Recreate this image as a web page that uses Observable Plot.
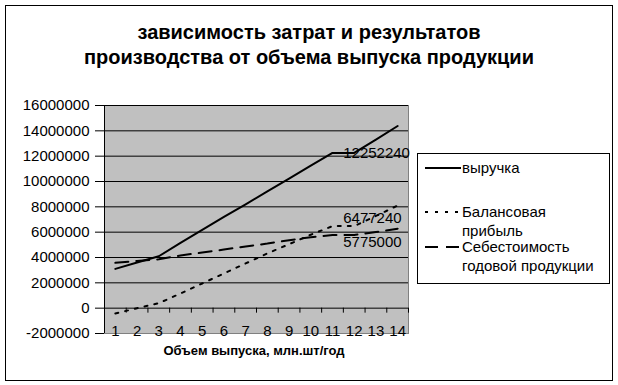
<!DOCTYPE html>
<html>
<head>
<meta charset="utf-8">
<script src="https://cdn.jsdelivr.net/npm/d3@7"></script>
<script src="https://cdn.jsdelivr.net/npm/@observablehq/plot@0.6"></script>
<style>
  html, body { margin: 0; padding: 0; background: #fff; }
  #wrap { position: relative; width: 618px; height: 385px; font-family: "Liberation Sans", Arial, sans-serif; color: #000; overflow: hidden; }
  #border { position: absolute; left: 5px; top: 5px; width: 606px; height: 374px; border: 1px solid #000; }
  #title { position: absolute; left: 0; width: 618px; top: 20px; text-align: center; font-weight: bold; font-size: 20px; line-height: 25px; }
  #xtitle { position: absolute; left: 104px; width: 300px; top: 343px; text-align: center; font-weight: bold; font-size: 13px; }
  #plot { position: absolute; left: 0; top: 0; }
  #legend { position: absolute; left: 417px; top: 153px; width: 191px; height: 129px; border: 1px solid #000; background: #fff; font-size: 15px; }
  .lg { position: absolute; left: 0; }
  .lg svg { position: absolute; left: 7px; }
  .lg span { position: absolute; left: 44px; white-space: nowrap; line-height: 19px; }
</style>
</head>
<body>
<div id="wrap">
  <div id="border"></div>
  <div id="plot"></div>
  <div id="title">зависимость затрат и результатов<br>производства от объема выпуска продукции</div>
  <div id="xtitle">Объем выпуска, млн.шт/год</div>
  <div id="legend"></div>
</div>
<script>
// Categories: output volume
const volumes = [1, 2, 3, 4, 5, 6, 7, 8, 9, 10, 11, 12, 13, 14];
// Series values
const revenue = [3100000, 3600000, 4100000, 5150000, 6180000, 7200000, 8200000, 9220000, 10230000, 11250000, 12252240, 12252240, 13300000, 14380000];
const profit  = [-420000, 0, 390000, 1160000, 1950000, 2740000, 3530000, 4320000, 5050000, 5800000, 6477240, 6477240, 7280000, 8100000];
const cost    = [3580000, 3730000, 3860000, 4160000, 4390000, 4630000, 4870000, 5100000, 5370000, 5600000, 5775000, 5775000, 6010000, 6270000];
const yTicks = [-2000000, 0, 2000000, 4000000, 6000000, 8000000, 10000000, 12000000, 14000000, 16000000];
const seriesNames = ["выручка", "Балансовая прибыль", "Себестоимость годовой продукции"];
const labelIndex = 11; // data labels on the 12th point

const font = '"Liberation Sans", Arial, sans-serif';
const rows = (vals) => volumes.map((v, i) => ({x: v, y: vals[i]}));
const boundaries = d3.range(volumes.length + 1).map(i => volumes[0] - 0.5 + i);
const gridTicks = yTicks.filter(t => t > yTicks[0]);

const styles = [
  {stroke: "#000", strokeWidth: 2},
  {stroke: "#000", strokeWidth: 2, strokeDasharray: "3,7"},
  {stroke: "#000", strokeWidth: 2, strokeDasharray: "13,8"}
];

const labelMark = (vals, dy) => Plot.text([vals[labelIndex]], {
  x: volumes[labelIndex], y: d => d, text: d => String(d),
  textAnchor: "start", dx: -11, dy, fontSize: 15, fill: "#000"
});

const chart = Plot.plot({
  width: 618,
  height: 385,
  marginLeft: 104,
  marginRight: 210,
  marginTop: 105,
  marginBottom: 52,
  x: {domain: [volumes[0] - 0.5, volumes[volumes.length - 1] + 0.5], axis: null},
  y: {domain: [yTicks[0], yTicks[yTicks.length - 1]], axis: null},
  style: {fontFamily: font, fontSize: "15px", color: "#000", background: "transparent", overflow: "visible"},
  marks: [
    Plot.frame({fill: "#c0c0c0", stroke: "#808080"}),
    Plot.ruleY(gridTicks, {stroke: "#000", strokeWidth: 1}),
    Plot.ruleX([boundaries[0]], {stroke: "#000"}),
    Plot.axisY(yTicks, {anchor: "left", tickSize: 9, tickPadding: 6, tickFormat: d => String(d), label: null, fontSize: 15, stroke: "#000"}),
    Plot.ruleX(boundaries, {y1: 0, y2: 0, insetBottom: -5, stroke: "#000"}),
    Plot.text(volumes, {x: d => d, y: 0, dy: 23, text: d => String(d), fontSize: 15, fill: "#000"}),
    Plot.line(rows(revenue), {x: "x", y: "y", ...styles[0]}),
    Plot.line(rows(profit), {x: "x", y: "y", ...styles[1]}),
    Plot.line(rows(cost), {x: "x", y: "y", ...styles[2]}),
    labelMark(revenue, 0),
    labelMark(profit, -8),
    labelMark(cost, 7)
  ]
});
document.getElementById("plot").appendChild(chart);

// Legend
const legend = document.getElementById("legend");
const entries = [
  {lines: ["выручка"], top: 4, s: styles[0]},
  {lines: ["Балансовая", "прибыль"], top: 48, s: styles[1]},
  {lines: ["Себестоимость", "годовой продукции"], top: 83, s: styles[2]}
];
entries.forEach(e => {
  const g = document.createElement("div");
  g.className = "lg";
  g.style.top = e.top + "px";
  const ns = "http://www.w3.org/2000/svg";
  const svg = document.createElementNS(ns, "svg");
  svg.setAttribute("width", 36); svg.setAttribute("height", 19);
  svg.style.top = "0px";
  const ln = document.createElementNS(ns, "line");
  ln.setAttribute("x1", 0); ln.setAttribute("x2", 36); ln.setAttribute("y1", 10); ln.setAttribute("y2", 10);
  ln.setAttribute("stroke", e.s.stroke); ln.setAttribute("stroke-width", e.s.strokeWidth);
  if (e.s.strokeDasharray) ln.setAttribute("stroke-dasharray", e.s.strokeDasharray);
  svg.appendChild(ln);
  g.appendChild(svg);
  e.lines.forEach((t, k) => {
    const sp = document.createElement("span");
    sp.textContent = t;
    sp.style.top = (k * 19) + "px";
    g.appendChild(sp);
  });
  legend.appendChild(g);
});
</script>
</body>
</html>
